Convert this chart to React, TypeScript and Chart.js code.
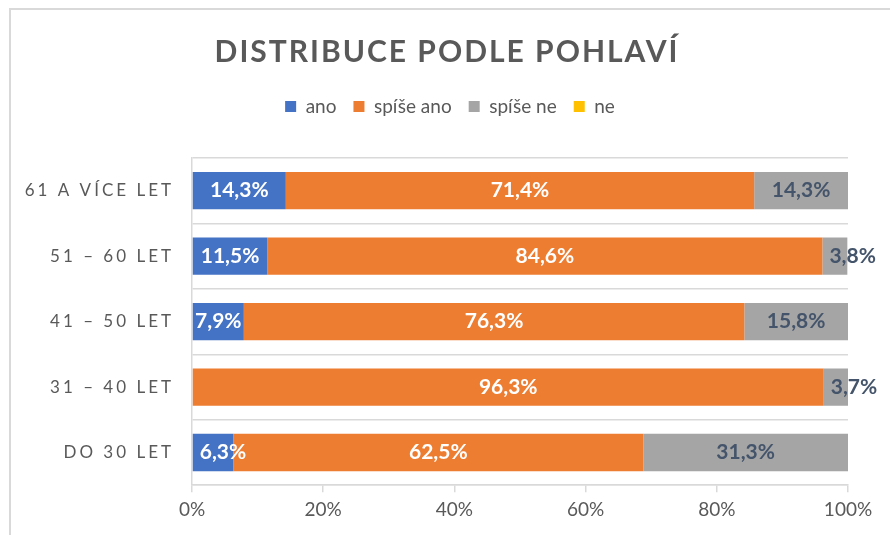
import React, { useEffect, useRef } from "react";
import { Chart, registerables } from "chart.js";

Chart.register(...registerables);

const TITLE = "DISTRIBUCE PODLE POHLAVÍ";
const categories = ["61 A VÍCE LET", "51 – 60 LET", "41 – 50 LET", "31 – 40 LET", "DO 30 LET"];
const seriesNames = ["ano", "spíše ano", "spíše ne", "ne"];
const ano = [14.3, 11.5, 7.9, 0, 6.3];
const spiseAno = [71.4, 84.6, 76.3, 96.3, 62.5];
const spiseNe = [14.3, 3.8, 15.8, 3.7, 31.3];
const ne = [0, 0, 0, 0, 0];
const xTickValues = [0, 20, 40, 60, 80, 100];

const seriesValues = [ano, spiseAno, spiseNe, ne];
const colors = ["#4472C4", "#ED7D31", "#A5A5A5", "#FFC000"];
const labelColors = ["#FFFFFF", "#FFFFFF", "#44546A", "#FFFFFF"];
const FONT = "Lato";
const TEXT_GREY = "#595959";
const GRID = "#D9D9D9";

const fmt = (v: number) => v.toFixed(1).replace(".", ",") + "%";

const framePlugin = {
  id: "frame",
  beforeDraw(chart: any) {
    const ctx = chart.ctx;
    ctx.save();
    ctx.fillStyle = "#FFFFFF";
    ctx.fillRect(0, 0, chart.width, chart.height);
    ctx.strokeStyle = GRID;
    ctx.lineWidth = 2;
    ctx.beginPath();
    ctx.moveTo(10, chart.height + 5);
    ctx.lineTo(10, 9);
    ctx.lineTo(chart.width + 5, 9);
    ctx.stroke();
    ctx.restore();
  },
};

const textPlugin = {
  id: "texts",
  afterDraw(chart: any) {
    const ctx = chart.ctx;
    ctx.save();
    // title
    ctx.fillStyle = TEXT_GREY;
    ctx.font = `bold 30px ${FONT}`;
    (ctx as any).letterSpacing = "2px";
    ctx.textAlign = "center";
    ctx.textBaseline = "middle";
    ctx.fillText(TITLE, 447, 52);
    // category labels
    const yScale = chart.scales.y;
    ctx.font = `17px ${FONT}`;
    (ctx as any).letterSpacing = "3px";
    ctx.textAlign = "right";
    categories.forEach((c, i) => {
      ctx.fillText(c, 174, yScale.getPixelForValue(i));
    });
    ctx.restore();
  },
};

const dataLabelPlugin = {
  id: "dataLabels",
  afterDatasetsDraw(chart: any) {
    const ctx = chart.ctx;
    const area = chart.chartArea;
    ctx.save();
    ctx.font = `bold 21px ${FONT}`;
    ctx.textBaseline = "middle";
    chart.data.datasets.forEach((ds: any, di: number) => {
      const meta = chart.getDatasetMeta(di);
      if (meta.hidden) return;
      meta.data.forEach((el: any, j: number) => {
        const v = ds.data[j];
        if (!v) return;
        const { x, base, y } = el.getProps(["x", "base", "y"], true);
        const left = Math.max(Math.min(x, base), area.left);
        const right = Math.min(Math.max(x, base), area.right);
        const text = fmt(v);
        const w = ctx.measureText(text).width;
        ctx.fillStyle = labelColors[di];
        if (w > right - left) {
          ctx.textAlign = "left";
          ctx.fillText(text, left <= area.left + 0.5 ? left + 1 : left + 7, y);
        } else {
          ctx.textAlign = "center";
          ctx.fillText(text, (left + right) / 2, y);
        }
      });
    });
    ctx.restore();
  },
};

export default function App() {
  const ref = useRef<HTMLCanvasElement>(null);
  useEffect(() => {
    if (!ref.current) return;
    const chart = new Chart(ref.current, {
      type: "bar",
      data: {
        labels: categories,
        datasets: seriesNames.map((name, i) => ({
          label: name,
          data: seriesValues[i],
          backgroundColor: colors[i],
          borderWidth: 0,
          barPercentage: 0.57,
          categoryPercentage: 1,
          xAxisID: "x",
          yAxisID: "y",
        })),
      },
      options: {
        indexAxis: "y",
        responsive: false,
        animation: false,
        layout: { padding: { top: 80, left: 52, right: 42, bottom: 8 } },
        plugins: {
          title: { display: false },
          tooltip: { enabled: false },
          legend: {
            display: true,
            position: "top",
            labels: {
              boxWidth: 11,
              boxHeight: 11,
              padding: 17,
              color: TEXT_GREY,
              font: { family: FONT, size: 19 },
            },
          },
        },
        scales: {
          x: {
            type: "linear",
            stacked: true,
            min: 0,
            max: 100,
            afterBuildTicks: (s: any) => {
              s.ticks = xTickValues.map((v) => ({ value: v }));
            },
            ticks: {
              callback: (v: any) => v + "%",
              color: TEXT_GREY,
              font: { family: FONT, size: 19 },
              padding: 6,
              maxRotation: 0,
            },
            grid: {
              display: true,
              drawOnChartArea: false,
              drawTicks: true,
              tickLength: 7,
              color: GRID,
              lineWidth: 1.5,
            },
            border: { display: true, color: GRID, width: 1.5 },
          },
          y: {
            type: "category",
            stacked: true,
            grid: {
              display: true,
              offset: true,
              drawOnChartArea: true,
              drawTicks: false,
              color: GRID,
              lineWidth: 1.5,
            },
            border: { display: true, color: GRID, width: 1.5 },
            ticks: { display: false },
            afterFit: (s: any) => {
              s.width = 140;
            },
          },
          spacer: {
            type: "linear",
            axis: "x",
            position: "top",
            display: true,
            grid: { display: false },
            border: { display: false },
            ticks: { display: false },
            afterFit: (s: any) => {
              s.height = 32;
            },
          },
        },
      } as any,
      plugins: [framePlugin, dataLabelPlugin, textPlugin],
    });
    return () => chart.destroy();
  }, []);
  return (
    <div style={{ position: "fixed", left: 0, top: 0, width: 890, height: 535 }}>
      <canvas ref={ref} width={890} height={535} style={{ display: "block" }} />
    </div>
  );
}
